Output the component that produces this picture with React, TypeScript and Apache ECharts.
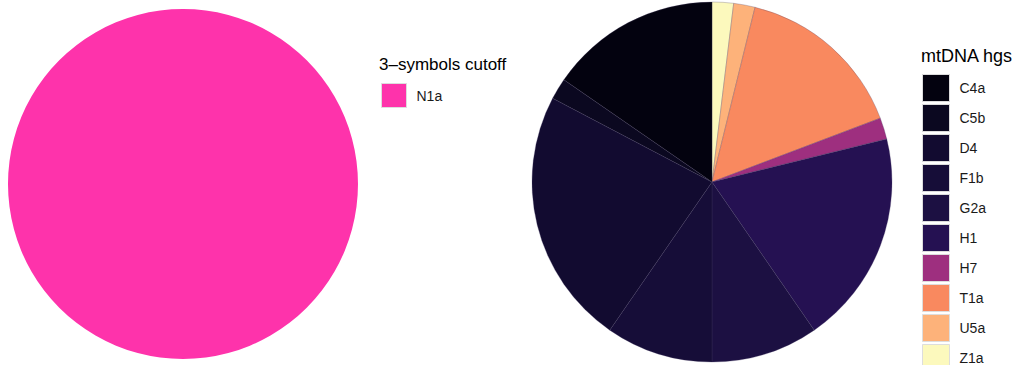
import React, { useEffect, useRef } from "react";
import * as echarts from "echarts";

// Left pie: 3-symbols cutoff
const leftNames = ["N1a"];
const leftValues = [1];
const leftColors = ["#fe33ab"];

// Right pie: mtDNA haplogroups (legend order)
const rightNames = ["C4a", "C5b", "D4", "F1b", "G2a", "H1", "H7", "T1a", "U5a", "Z1a"];
const rightValues = [8, 1, 12, 5, 5, 10, 1, 8, 1, 1];
const rightColors = ["#03020f", "#0b0820", "#120b30", "#160d38", "#1c1042", "#251152", "#9e2f7f", "#f9895f", "#fdb27a", "#fcf9bd"];

const leftTitle = "3–symbols cutoff";
const rightTitle = "mtDNA hgs";

export default function App() {
  const ref = useRef<HTMLDivElement>(null);
  useEffect(() => {
    document.body.style.margin = "0";
    const chart = echarts.init(ref.current!, null, { renderer: "svg" });
    // slices drawn clockwise from 12 o'clock in reverse legend order
    const rightData = rightNames
      .map((n, i) => ({ name: n, value: rightValues[i], itemStyle: { color: rightColors[i] } }))
      .reverse();
    const leftData = leftNames.map((n, i) => ({ name: n, value: leftValues[i], itemStyle: { color: leftColors[i] } }));
    const font = "'Liberation Sans', Arial, Helvetica, sans-serif";
    chart.setOption({
      animation: false,
      backgroundColor: "#ffffff",
      title: [
        { text: leftTitle, left: 379, top: 56, padding: 0, textStyle: { fontFamily: font, fontSize: 17, fontWeight: "normal", color: "#000" } },
        { text: rightTitle, left: 921, top: 47, padding: 0, textStyle: { fontFamily: font, fontSize: 18, fontWeight: "normal", color: "#000" } },
      ],
      legend: [
        {
          data: leftNames,
          orient: "vertical",
          left: 381,
          top: 83,
          padding: 0,
          itemWidth: 25,
          itemHeight: 24,
          icon: "rect",
          selectedMode: false,
          itemStyle: { borderColor: "#dddddd", borderWidth: 1 },
          textStyle: { fontFamily: font, fontSize: 14, color: "#1a1a1a", padding: [0, 0, 0, 5] },
        },
        {
          data: rightNames,
          orient: "vertical",
          left: 922,
          top: 74,
          height: 330,
          padding: 0,
          itemWidth: 27,
          itemHeight: 27,
          itemGap: 2,
          icon: "rect",
          selectedMode: false,
          itemStyle: { borderColor: "#dddddd", borderWidth: 1 },
          textStyle: { fontFamily: font, fontSize: 14, color: "#1a1a1a", padding: [0, 0, 0, 5] },
        },
      ],
      series: [
        {
          type: "pie",
          name: "left",
          center: [183, 184],
          radius: [0, 175],
          startAngle: 90,
          clockwise: true,
          label: { show: false },
          labelLine: { show: false },
          emphasis: { disabled: true },
          data: leftData,
        },
        {
          type: "pie",
          name: "right",
          center: [712, 182],
          radius: [0, 180],
          startAngle: 90,
          clockwise: true,
          label: { show: false },
          labelLine: { show: false },
          emphasis: { disabled: true },
          itemStyle: { borderColor: "rgba(70,60,100,0.45)", borderWidth: 0.6 },
          data: rightData,
        },
      ],
    });
    return () => chart.dispose();
  }, []);
  return <div ref={ref} style={{ width: 1023, height: 365 }} />;
}
